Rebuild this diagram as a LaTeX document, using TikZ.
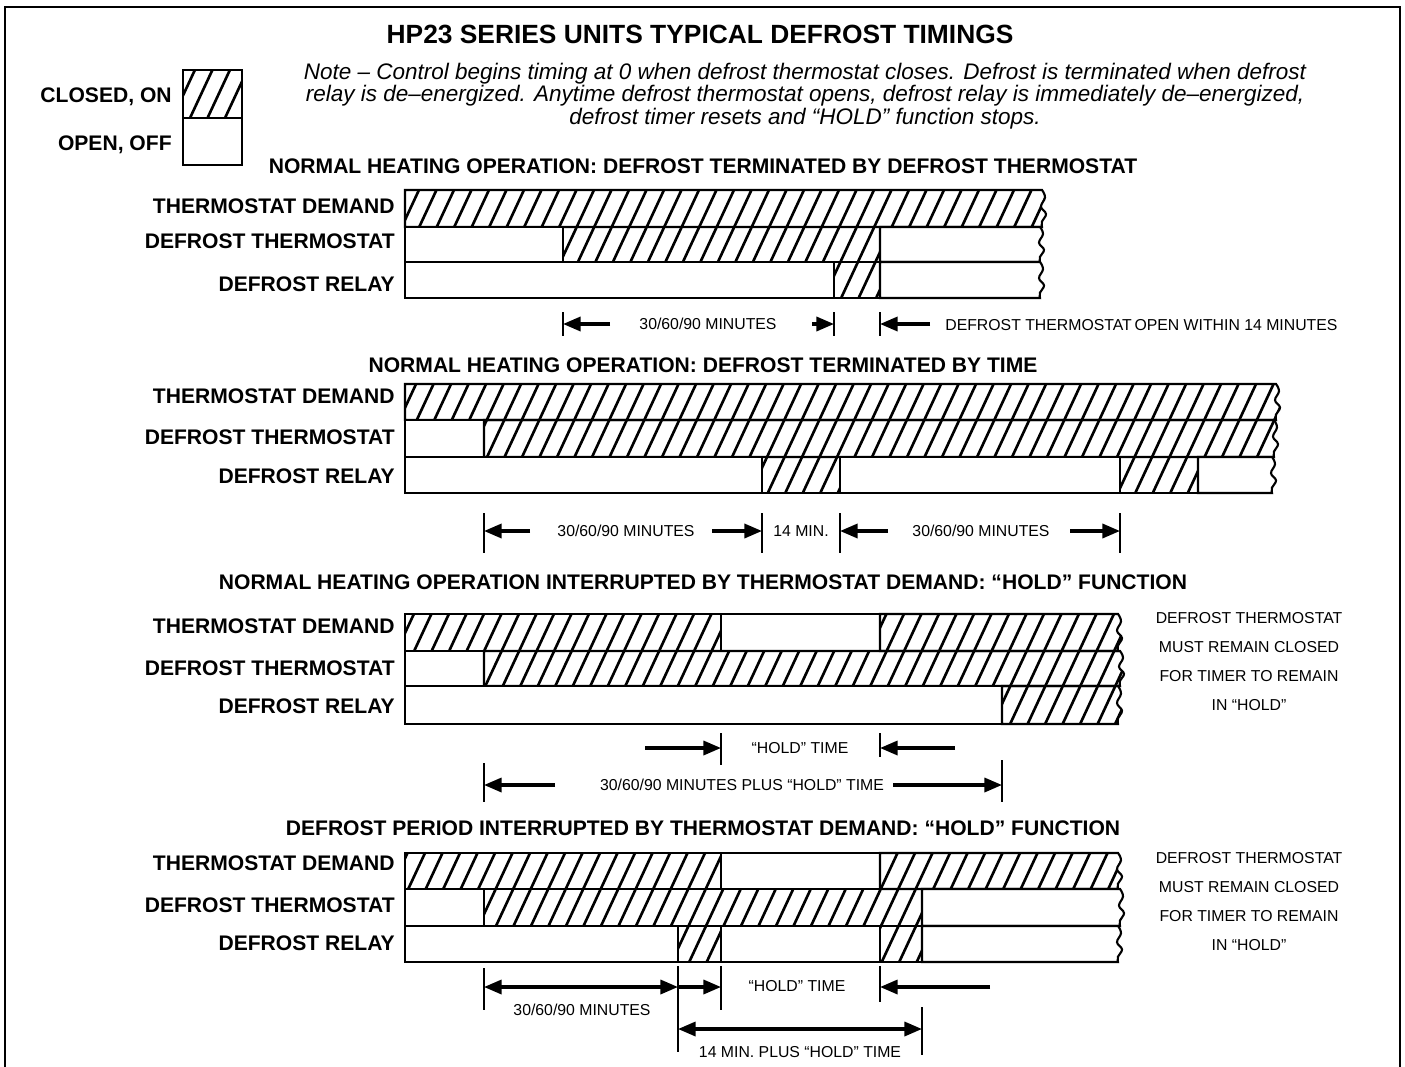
\documentclass[tikz,border=0pt]{standalone}
\usepackage{fontspec}
\setmainfont{Liberation Sans}
\usetikzlibrary{arrows.meta}
\tikzstyle{title} = [font=\bfseries\fontsize{15}{18}\selectfont]
\tikzstyle{header} = [font=\bfseries\fontsize{12}{14}\selectfont]
\tikzstyle{rowlabel} = [anchor=east, inner sep=0pt, font=\bfseries\fontsize{12}{14}\selectfont]
\tikzstyle{note} = [align=center, font=\itshape\fontsize{12.8}{11.9}\selectfont]
\tikzstyle{dimtext} = [inner sep=0pt, font=\fontsize{9}{11}\selectfont]
\tikzstyle{sidenote} = [inner sep=0pt, font=\fontsize{9}{11}\selectfont]
\tikzstyle{box} = [draw=black, line width=1.2pt]
\tikzstyle{off} = [draw=black, line width=1.2pt, fill=white]
\tikzstyle{hatchline} = [line width=1.5pt]
\tikzstyle{tick} = [line width=0.8pt]
\tikzstyle{arrow} = [line width=1.8pt, -{Triangle[length=10pt,width=8pt]}]
\tikzstyle{dblarrow} = [line width=1.8pt, {Triangle[length=10pt,width=8pt]}-{Triangle[length=10pt,width=8pt]}]
% slanted hatching inside x1, x2, y1, y2
\newcommand{\hatchfill}[4]{%
    \pgfmathtruncatemacro{\ka}{floor(((#1)+(#3)*0.466)/17.5)}%
    \pgfmathtruncatemacro{\kb}{ceil(((#2)+(#4)*0.466)/17.5)}%
    \foreach \k in {\ka,...,\kb} \draw[hatchline] ({\k*17.5-(#4)*0.466},#4) -- ({\k*17.5-(#3)*0.466},#3);}
% path with a torn right edge: command, x1, x2, y1, y2
\newcommand{\tornedge}[5]{#1 (#2,#4) -- (#3,#4) -- plot[smooth, tension=0.7] coordinates {(#3,#4) ({#3+3},{#4+0.2*(#5-#4)}) ({#3-1},{#4+0.45*(#5-#4)}) ({#3+4},{#4+0.65*(#5-#4)}) ({#3},{#4+0.85*(#5-#4)}) (#3,#5)} -- (#2,#5) -- cycle;}
\newcommand{\onbox}[4]{\begin{scope}\clip (#1,#3) rectangle (#2,#4); \hatchfill{#1}{#2}{#3}{#4}\end{scope}\draw[box] (#1,#3) rectangle (#2,#4);}
\newcommand{\offbox}[4]{\draw[off] (#1,#3) rectangle (#2,#4);}
\newcommand{\ontorn}[4]{\begin{scope}\tornedge{\clip}{#1}{#2}{#3}{#4}\hatchfill{#1}{#2+5}{#3}{#4}\end{scope}\tornedge{\draw[box]}{#1}{#2}{#3}{#4}}
\newcommand{\offtorn}[4]{\tornedge{\draw[off]}{#1}{#2}{#3}{#4}}

\begin{document}
\begin{tikzpicture}[x=0.02cm, y=-0.02cm]

    \useasboundingbox (0,0) rectangle (1405,1067);
    \draw[line width=1.1pt] (5,1067) -- (5,7) -- (1400,7) -- (1400,1067);

    % Title, legend and note
    \node (title) [title] at (700,34) {HP23 SERIES UNITS TYPICAL DEFROST TIMINGS};
    \onbox{183}{242}{70}{118}
    \offbox{183}{242}{118}{165}
    \node (legendOn) [rowlabel] at (172,97) {CLOSED, ON};
    \node (legendOff) [rowlabel] at (172,145) {OPEN, OFF};
    \node (note) [note] at (805,96) {Note -- Control begins timing at 0 when defrost thermostat closes. Defrost is terminated when defrost\\
        relay is de--energized. Anytime defrost thermostat opens, defrost relay is immediately de--energized,\\
        defrost timer resets and ``HOLD'' function stops.};

    % Headers
    \node (header1) [header] at (703,166) {NORMAL HEATING OPERATION: DEFROST TERMINATED BY DEFROST THERMOSTAT};
    \node (header2) [header] at (703,365) {NORMAL HEATING OPERATION: DEFROST TERMINATED BY TIME};
    \node (header3) [header] at (703,582) {NORMAL HEATING OPERATION INTERRUPTED BY THERMOSTAT DEMAND: ``HOLD'' FUNCTION};
    \node (header4) [header] at (703,828) {DEFROST PERIOD INTERRUPTED BY THERMOSTAT DEMAND: ``HOLD'' FUNCTION};

    % Row labels
    \foreach \s/\ya/\yb/\yc in {1/206/241/284, 2/396/437/476, 3/626/668/706, 4/863/905/943} {
        \node (demand\s) [rowlabel] at (395,\ya) {THERMOSTAT DEMAND};
        \node (thermostat\s) [rowlabel] at (395,\yb) {DEFROST THERMOSTAT};
        \node (relay\s) [rowlabel] at (395,\yc) {DEFROST RELAY};
    }

    % Side notes
    \foreach \s/\ya in {3/618, 4/858} {
        \node (hold\s a) [sidenote] at (1249,\ya) {DEFROST THERMOSTAT};
        \node (hold\s b) [sidenote] at (1249,\ya+29) {MUST REMAIN CLOSED};
        \node (hold\s c) [sidenote] at (1249,\ya+58) {FOR TIMER TO REMAIN};
        \node (hold\s d) [sidenote] at (1249,\ya+87) {IN ``HOLD''};
    }

    % Section 1 bars
    \ontorn{405}{1042}{190}{227}
    \offbox{405}{563}{227}{262}
    \onbox{563}{880}{227}{262}
    \offtorn{880}{1040}{227}{262}
    \offbox{405}{834}{262}{298}
    \onbox{834}{880}{262}{298}
    \offtorn{880}{1040}{262}{298}

    % Section 2 bars
    \ontorn{405}{1276}{384}{420}
    \offbox{405}{484}{420}{457}
    \ontorn{484}{1274}{420}{457}
    \offbox{405}{762}{457}{493}
    \onbox{762}{840}{457}{493}
    \offbox{840}{1120}{457}{493}
    \onbox{1120}{1198}{457}{493}
    \offtorn{1198}{1272}{457}{493}

    % Section 3 bars
    \onbox{405}{721}{614}{651}
    \offbox{721}{880}{614}{651}
    \ontorn{880}{1118}{614}{651}
    \offbox{405}{484}{651}{686}
    \ontorn{484}{1120}{651}{686}
    \offbox{405}{1002}{686}{724}
    \ontorn{1002}{1118}{686}{724}

    % Section 4 bars
    \onbox{405}{721}{853}{889}
    \offbox{721}{880}{853}{889}
    \ontorn{880}{1118}{853}{889}
    \offbox{405}{484}{889}{926}
    \onbox{484}{922}{889}{926}
    \offtorn{922}{1120}{889}{926}
    \offbox{405}{678}{926}{962}
    \onbox{678}{721}{926}{962}
    \offbox{721}{880}{926}{962}
    \onbox{880}{922}{926}{962}
    \offtorn{922}{1118}{926}{962}

    % Section 1 timings
    \foreach \n/\x in {A/563, B/834, C/880} {
        \coordinate (dim1\n) at (\x,324);
        \draw[tick] (\x,312) -- (\x,336);
    }
    \coordinate (dim1TailA) at (610,324);
    \coordinate (dim1TailB) at (812,324);
    \coordinate (dim1TailC) at (930,324);
    \node (dim1Text) [dimtext] at (708,324) {30/60/90 MINUTES};
    \node (dim1Open) [dimtext, anchor=west] at (945,325) {DEFROST THERMOSTAT\,OPEN WITHIN 14 MINUTES};

    % Section 2 timings
    \foreach \n/\x in {A/484, B/762, C/840, D/1120} {
        \coordinate (dim2\n) at (\x,531);
        \draw[tick] (\x,513) -- (\x,553);
    }
    \coordinate (dim2TailA) at (530,531);
    \coordinate (dim2TailB) at (712,531);
    \coordinate (dim2TailC) at (888,531);
    \coordinate (dim2TailD) at (1070,531);
    \node (dim2TextA) [dimtext] at (626,531) {30/60/90 MINUTES};
    \node (dim2Min) [dimtext] at (801,531) {14 MIN.};
    \node (dim2TextB) [dimtext] at (981,531) {30/60/90 MINUTES};

    % Section 3 timings
    \coordinate (dim3A) at (721,748);
    \coordinate (dim3B) at (880,748);
    \coordinate (dim3C) at (484,785);
    \coordinate (dim3D) at (1002,785);
    \draw[tick] (721,733) -- (721,765);
    \draw[tick] (880,733) -- (880,757);
    \draw[tick] (484,763) -- (484,802);
    \draw[tick] (1002,760) -- (1002,802);
    \coordinate (dim3TailA) at (645,748);
    \coordinate (dim3TailB) at (955,748);
    \coordinate (dim3TailC) at (555,785);
    \coordinate (dim3TailD) at (893,785);
    \node (dim3Hold) [dimtext] at (800,748) {``HOLD'' TIME};
    \node (dim3Total) [dimtext] at (742,785) {30/60/90 MINUTES PLUS ``HOLD'' TIME};

    % Section 4 timings
    \coordinate (dim4A) at (484,987);
    \coordinate (dim4B) at (678,987);
    \coordinate (dim4C) at (721,987);
    \coordinate (dim4D) at (880,987);
    \coordinate (dim4E) at (678,1029);
    \coordinate (dim4F) at (922,1029);
    \draw[tick] (484,968) -- (484,1010);
    \draw[tick] (678,966) -- (678,1052);
    \draw[tick] (721,966) -- (721,1010);
    \draw[tick] (880,966) -- (880,1002);
    \draw[tick] (922,1007) -- (922,1055);
    \coordinate (dim4TailD) at (990,987);
    \node (dim4Hold) [dimtext] at (797,986) {``HOLD'' TIME};
    \node (dim4Text) [dimtext] at (582,1010) {30/60/90 MINUTES};
    \node (dim4Total) [dimtext] at (800,1052) {14 MIN. PLUS ``HOLD'' TIME};

    % Arrows
    \draw [arrow] (dim1TailA) -- (dim1A);
    \draw [arrow] (dim1TailB) -- (dim1B);
    \draw [arrow] (dim1TailC) -- (dim1C);

    \draw [arrow] (dim2TailA) -- (dim2A);
    \draw [arrow] (dim2TailB) -- (dim2B);
    \draw [arrow] (dim2TailC) -- (dim2C);
    \draw [arrow] (dim2TailD) -- (dim2D);

    \draw [arrow] (dim3TailA) -- (dim3A);
    \draw [arrow] (dim3TailB) -- (dim3B);
    \draw [arrow] (dim3TailC) -- (dim3C);
    \draw [arrow] (dim3TailD) -- (dim3D);

    \draw [dblarrow] (dim4A) -- (dim4B);
    \draw [arrow] (dim4B) -- (dim4C);
    \draw [arrow] (dim4TailD) -- (dim4D);
    \draw [dblarrow] (dim4E) -- (dim4F);

\end{tikzpicture}
\end{document}
